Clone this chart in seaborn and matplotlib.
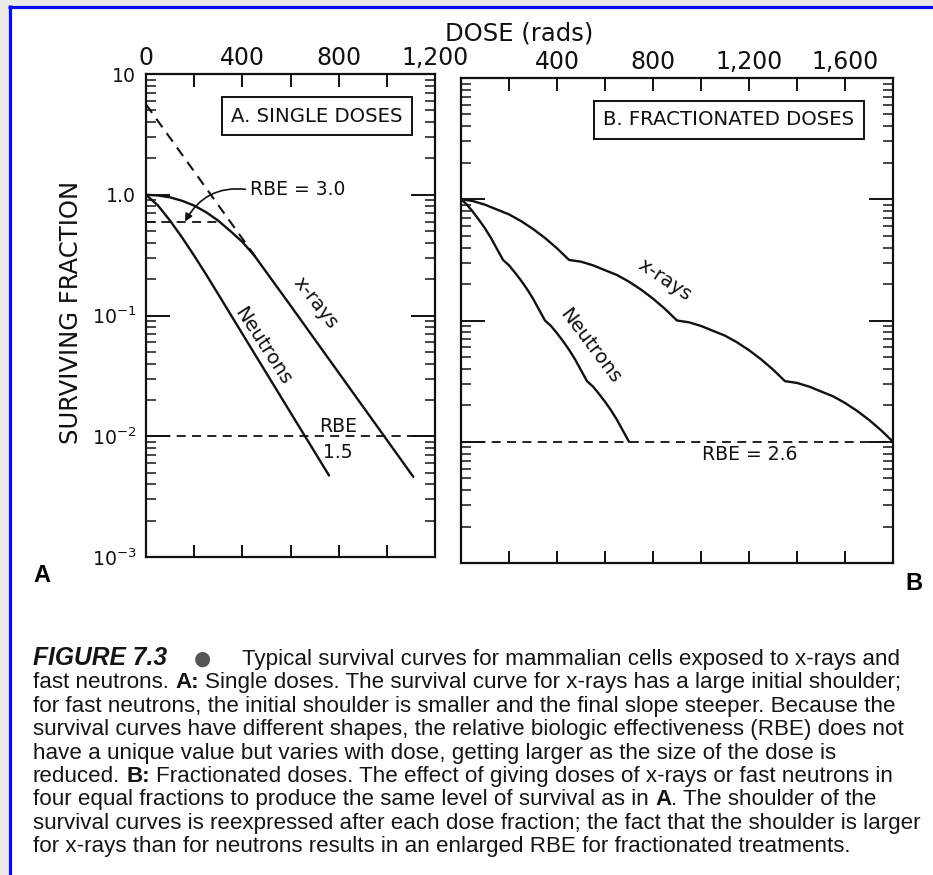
import numpy as np
import matplotlib
matplotlib.use("Agg")
import matplotlib.pyplot as plt
from matplotlib import font_manager as fm
from matplotlib.ticker import MultipleLocator, FixedLocator, FixedFormatter, LogLocator, NullFormatter, FuncFormatter
from matplotlib.patches import Rectangle
from matplotlib.lines import Line2D
import seaborn as sns

# ---------------- data ----------------
# A: single doses (dose in rads, surviving fraction)
dose_xray_single = [0, 50, 100, 150, 200, 250, 300, 350, 400, 450, 500, 550, 600,
                    700, 800, 900, 1000, 1110]
sf_xray_single = [1.0, 0.986, 0.951, 0.891, 0.813, 0.716, 0.610, 0.501, 0.407, 0.313,
                  0.228, 0.166, 0.121, 0.0637, 0.0336, 0.0177, 0.00933, 0.00461]
dose_neutron_single = [0, 50, 100, 150, 200, 250, 300, 400, 500, 600, 700, 760]
sf_neutron_single = [1.0, 0.813, 0.610, 0.442, 0.313, 0.218, 0.150, 0.0706, 0.0333,
                     0.0157, 0.00743, 0.00473]
# extrapolated final slope of the x-ray curve
dose_xray_extrap = [0, 470]
sf_xray_extrap = [5.6, 0.277]
# iso-effect level used for RBE = 3.0
dose_rbe_high = [0, 306]
sf_rbe_high = [0.6, 0.6]
# iso-effect level used for RBE = 1.5 and RBE = 2.6
sf_iso = 0.01

# B: four equal fractions
dose_xray_frac = [0, 50, 100, 150, 200, 250, 300, 350, 400, 450,
                  500, 550, 600, 650, 700, 750, 800, 850, 900,
                  950, 1000, 1050, 1100, 1150, 1200, 1250, 1300, 1350,
                  1400, 1450, 1500, 1550, 1600, 1650, 1700, 1750, 1800]
sf_xray_frac = [1.0, 0.966, 0.902, 0.822, 0.750, 0.661, 0.569, 0.479, 0.394, 0.316,
                0.3055, 0.2852, 0.2599, 0.2372, 0.2090, 0.1799, 0.1515, 0.1246, 0.1000,
                0.0966, 0.0902, 0.0822, 0.0750, 0.0661, 0.0569, 0.0479, 0.0394, 0.0316,
                0.03055, 0.02852, 0.02599, 0.02372, 0.0209, 0.01799, 0.01515, 0.01246, 0.0100]
dose_neutron_frac = [0, 25, 50, 75, 100, 125, 150, 175,
                     200, 225, 250, 275, 300, 325, 350,
                     375, 400, 425, 450, 475, 500, 525,
                     550, 575, 600, 625, 650, 675, 700]
sf_neutron_frac = [1.0, 0.902, 0.785, 0.676, 0.575, 0.479, 0.389, 0.316,
                   0.2852, 0.2482, 0.2138, 0.1818, 0.1515, 0.1230, 0.1000,
                   0.0902, 0.0785, 0.0676, 0.0575, 0.0479, 0.0389, 0.0316,
                   0.02852, 0.02482, 0.02138, 0.01818, 0.01515, 0.0123, 0.0100]

y_tick_values = [1e-3, 1e-2, 1e-1, 1.0, 10.0]
y_tick_labels = [r"$10^{-3}$", r"$10^{-2}$", r"$10^{-1}$", "1.0", "10"]

caption_lines = [
    [("FIGURE 7.3", "bi"), ("\u25CF", "dot"),
     ("Typical survival curves for mammalian cells exposed to x-rays and", "r")],
    [("fast neutrons.", "r"), ("A:", "b"),
     ("Single doses. The survival curve for x-rays has a large initial shoulder;", "r")],
    [("for fast neutrons, the initial shoulder is smaller and the final slope steeper. Because the", "r")],
    [("survival curves have different shapes, the relative biologic effectiveness (RBE) does not", "r")],
    [("have a unique value but varies with dose, getting larger as the size of the dose is", "r")],
    [("reduced.", "r"), ("B:", "b"),
     ("Fractionated doses. The effect of giving doses of x-rays or fast neutrons in", "r")],
    [("four equal fractions to produce the same level of survival as in", "r"), ("A", "b"),
     (". The shoulder of the", "r-nospace")],
    [("survival curves is reexpressed after each dose fraction; the fact that the shoulder is larger", "r")],
    [("for x-rays than for neutrons results in an enlarged RBE for fractionated treatments.", "r")],
]

# ---------------- style ----------------
sns.set_style("ticks")
plt.rcParams["font.family"] = ["DejaVu Sans"]
plt.rcParams["mathtext.fontset"] = "dejavusans"
plt.rcParams["axes.linewidth"] = 1.5


def font_available(name):
    try:
        fm.findfont(fm.FontProperties(family=name), fallback_to_default=False)
        return True
    except ValueError:
        return False


NARROW_OK = font_available("Liberation Sans Narrow")
BOX_FAMILY = "Liberation Sans Narrow" if NARROW_OK else "DejaVu Sans"
BOX_SIZE = 17.5 if NARROW_OK else 14.2
CAP_FAMILY = "Liberation Sans Narrow" if NARROW_OK else "Liberation Sans"
CAP_SIZE = 19.5 if NARROW_OK else 16.1

W, H = 933, 875
fig = plt.figure(figsize=(W / 100, H / 100), dpi=100)
fig.patch.set_facecolor("#ebeae6")

# page area with the blue frame on its left and top edges
fig.add_artist(Rectangle((11 / W, 0), 1 - 11 / W, 1 - 8 / H, transform=fig.transFigure,
                         facecolor="white", edgecolor="none", zorder=-10))
fig.add_artist(Line2D([9.5 / W, 9.5 / W], [0, 1 - 5 / H], transform=fig.transFigure,
                      color="#0a0af0", lw=2.3, solid_capstyle="butt"))
fig.add_artist(Line2D([8 / W, 1], [1 - 6.5 / H, 1 - 6.5 / H], transform=fig.transFigure,
                      color="#0a0af0", lw=2.3, solid_capstyle="butt"))


def fig_box(l, t, r, b):
    return [l / W, 1 - b / H, (r - l) / W, (b - t) / H]


axA = fig.add_axes(fig_box(146, 74, 435, 557))
axB = fig.add_axes(fig_box(461, 78, 893, 563))


def top_formatter(skip_zero):
    def f(v, pos):
        v = int(round(v))
        if v % 400 != 0 or (skip_zero and v == 0):
            return ""
        return f"{v:,}"
    return FuncFormatter(f)


for ax, xmax, skip0 in [(axA, 1200, False), (axB, 1800, True)]:
    ax.set_facecolor("none")
    ax.set_yscale("log")
    ax.set_xlim(0, xmax)
    ax.set_ylim(1e-3, 10)
    ax.xaxis.set_major_locator(MultipleLocator(200))
    ax.xaxis.set_major_formatter(top_formatter(skip0))
    ax.tick_params(axis="x", which="major", direction="in", length=9, width=1.4,
                   top=True, bottom=True, labeltop=True, labelbottom=False,
                   labelsize=17, pad=3, colors="#111111")
    ax.yaxis.set_major_locator(FixedLocator(y_tick_values))
    ax.yaxis.set_minor_locator(LogLocator(base=10, subs=np.arange(2, 10), numticks=20))
    ax.yaxis.set_minor_formatter(NullFormatter())
    ax.tick_params(axis="y", which="major", direction="in", length=17, width=1.4,
                   left=True, right=True, labelsize=13.6, pad=7, colors="#111111")
    ax.tick_params(axis="y", which="minor", direction="in", length=7.5, width=1.2,
                   left=True, right=True)
    for s in ax.spines.values():
        s.set_visible(True)
        s.set_linewidth(1.6)
        s.set_color("#111111")
    ax.set_xlabel("")
    ax.set_ylabel("")

axA.yaxis.set_major_formatter(FixedFormatter(y_tick_labels))
axB.tick_params(axis="y", which="both", labelleft=False)

LW = 1.7
DASH = (0, (5, 3.5))
ink = "#111111"

# ---- A: single doses ----
sns.lineplot(x=dose_xray_single, y=sf_xray_single, ax=axA, color=ink, linewidth=LW)
sns.lineplot(x=dose_neutron_single, y=sf_neutron_single, ax=axA, color=ink, linewidth=LW)
sns.lineplot(x=dose_xray_extrap, y=sf_xray_extrap, ax=axA, color=ink, linewidth=1.5,
             linestyle=DASH)
sns.lineplot(x=dose_rbe_high, y=sf_rbe_high, ax=axA, color=ink, linewidth=1.3,
             linestyle=DASH)
sns.lineplot(x=[0, 1200], y=[sf_iso, sf_iso], ax=axA, color=ink, linewidth=1.3,
             linestyle=DASH)

# ---- B: fractionated doses ----
sns.lineplot(x=dose_xray_frac, y=sf_xray_frac, ax=axB, color=ink, linewidth=LW)
sns.lineplot(x=dose_neutron_frac, y=sf_neutron_frac, ax=axB, color=ink, linewidth=LW)
sns.lineplot(x=[0, 1800], y=[sf_iso, sf_iso], ax=axB, color=ink, linewidth=1.3,
             linestyle=DASH)

box = dict(boxstyle="square,pad=0.48", facecolor="white", edgecolor=ink, linewidth=1.4)
axA.text(0.592, 0.913, "A. SINGLE DOSES", transform=axA.transAxes, ha="center",
         va="center", family=BOX_FAMILY, fontsize=BOX_SIZE, color=ink, bbox=box)
axB.text(0.620, 0.914, "B. FRACTIONATED DOSES", transform=axB.transAxes, ha="center",
         va="center", family=BOX_FAMILY, fontsize=BOX_SIZE, color=ink, bbox=box)

curve_label = dict(ha="center", va="center", rotation_mode="anchor", fontsize=14,
                   color=ink)
axA.text(0.585, 0.526, "x-rays", transform=axA.transAxes, rotation=-52, **curve_label)
axA.text(0.405, 0.437, "Neutrons", transform=axA.transAxes, rotation=-57, **curve_label)
axB.text(0.472, 0.584, "x-rays", transform=axB.transAxes, rotation=-34, **curve_label)
axB.text(0.299, 0.447, "Neutrons", transform=axB.transAxes, rotation=-53, **curve_label)

axA.text(0.664, 0.271, "RBE", transform=axA.transAxes, ha="center", va="center",
         fontsize=13.5, color=ink)
axA.text(0.664, 0.217, "1.5", transform=axA.transAxes, ha="center", va="center",
         fontsize=13.5, color=ink)
axB.text(0.669, 0.223, "RBE = 2.6", transform=axB.transAxes, ha="center", va="center",
         fontsize=13.5, color=ink)
axA.annotate("RBE = 3.0", xy=(162, sf_rbe_high[0]), xycoords="data",
             xytext=(0.36, 0.760), textcoords="axes fraction", ha="left", va="center",
             fontsize=13.5, color=ink,
             arrowprops=dict(arrowstyle="-|>", color=ink, lw=1.2, mutation_scale=11,
                             connectionstyle="arc3,rad=0.35", shrinkA=1, shrinkB=0,
                             relpos=(0, 0.5)))

# ---- shared axis titles and panel letters ----
fig.text(519 / W, 1 - 33 / H, "DOSE (rads)", ha="center", va="center", fontsize=17.5,
         color=ink)
fig.text(71 / W, 1 - 312 / H, "SURVIVING FRACTION", rotation=90, ha="center",
         va="center", fontsize=17.5, color=ink)
fig.text(33 / W, 1 - 575 / H, "A", ha="left", va="center", fontsize=17,
         weight="bold", family="Liberation Sans", color="black")
fig.text(905 / W, 1 - 583 / H, "B", ha="left", va="center", fontsize=17,
         weight="bold", family="Liberation Sans", color="black")

# ---- caption ----
renderer = fig.canvas.get_renderer()
props = {
    "r": fm.FontProperties(family=CAP_FAMILY, size=CAP_SIZE),
    "r-nospace": fm.FontProperties(family=CAP_FAMILY, size=CAP_SIZE),
    "b": fm.FontProperties(family=CAP_FAMILY, size=CAP_SIZE, weight="bold"),
    "bi": fm.FontProperties(family=CAP_FAMILY, size=CAP_SIZE + 1.6, weight="bold",
                            style="italic"),
    "dot": fm.FontProperties(family="DejaVu Sans", size=CAP_SIZE - 2),
}


def text_width(s, fp):
    w, _, _ = renderer.get_text_width_height_descent(s, fp, ismath=False)
    return w


space_w = text_width("n n", props["r"]) - text_width("nn", props["r"])
first_line_starts = [33, 194, 242]
x0, base0, step = 33, 665, 23.4
for i, segments in enumerate(caption_lines):
    y = base0 + i * step
    x = x0
    for j, (txt, st) in enumerate(segments):
        if i == 0:
            x = first_line_starts[j]
        elif j > 0 and st != "r-nospace":
            x += space_w
        color = "#555555" if st == "dot" else "#151515"
        fig.text(x / W, 1 - y / H, txt, fontproperties=props[st], ha="left",
                 va="baseline", color=color)
        x += text_width(txt, props[st])

fig.savefig("out.png", dpi=100, facecolor=fig.get_facecolor())
